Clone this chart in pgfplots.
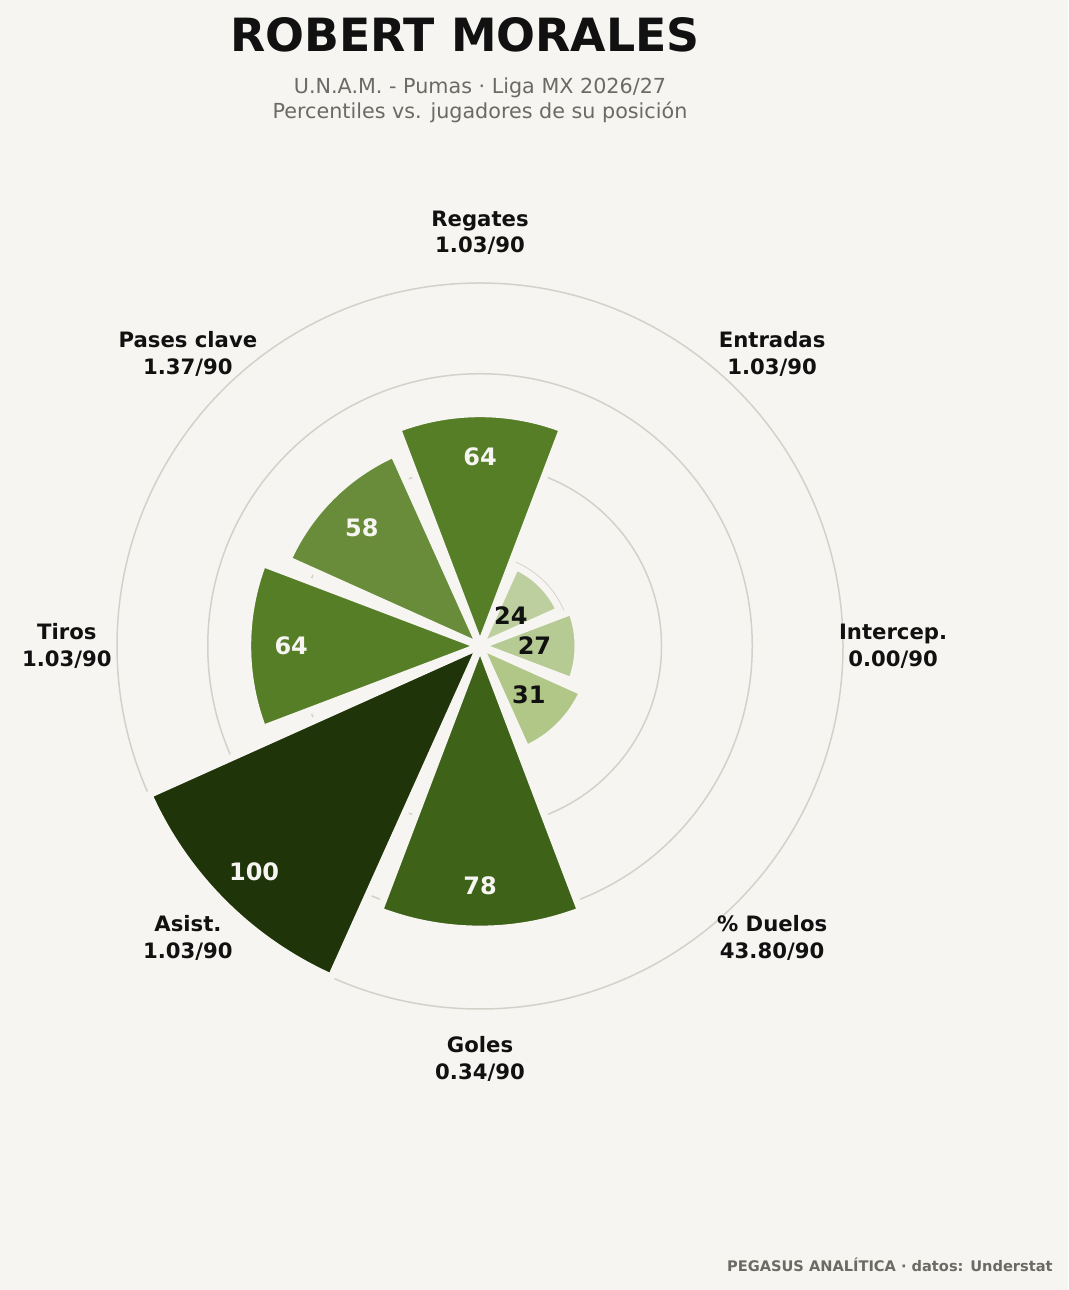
\documentclass[border=0pt]{standalone}
\usepackage{fontspec}
\setmainfont{DejaVu Sans}
\usepackage{pgfplots}
\usepackage{pgfplotstable}
\pgfplotsset{compat=1.18}

\definecolor{bg}{HTML}{F6F5F1}
\definecolor{ring}{HTML}{D4D1CB}
\definecolor{ink}{HTML}{111111}
\definecolor{soft}{HTML}{6B6A65}
% one colour per bar, in table order
\definecolor{bar0}{HTML}{567E27}
\definecolor{bar1}{HTML}{BDCF9F}
\definecolor{bar2}{HTML}{B6CA93}
\definecolor{bar3}{HTML}{B0C788}
\definecolor{bar4}{HTML}{3F6219}
\definecolor{bar5}{HTML}{1F3409}
\definecolor{bar6}{HTML}{567E27}
\definecolor{bar7}{HTML}{688C39}
\colorlet{txt0}{bg}\colorlet{txt1}{ink}\colorlet{txt2}{ink}\colorlet{txt3}{ink}
\colorlet{txt4}{bg}\colorlet{txt5}{bg}\colorlet{txt6}{bg}\colorlet{txt7}{bg}

% percentile per category, angle of the bar centre (deg)
\pgfplotstableread{
ang val
90 64
45 24
0 27
-45 31
-90 78
-135 100
180 64
135 58
}\bars

\newcommand{\unit}{1.815pt}% one percentile point
\newcommand{\half}{20.8}% half width of a bar, deg

\begin{document}
\begin{tikzpicture}
\begin{axis}[
    scale only axis,
    width=534pt, height=645pt,
    xmin=-132.23, xmax=161.98,
    ymin=-177.41, ymax=177.96,
    hide axis, clip=false,
]
\fill[bg] (rel axis cs:0,0) rectangle (rel axis cs:1,1);

% rings at 25, 50, 75, 100
\draw[ring, line width=0.75pt] (axis cs:0,0) circle[radius=25*\unit];
\draw[ring, line width=0.75pt] (axis cs:0,0) circle[radius=50*\unit];
\draw[ring, line width=0.75pt] (axis cs:0,0) circle[radius=75*\unit];
\draw[ring, line width=0.75pt] (axis cs:0,0) circle[radius=100*\unit];

\pgfplotsinvokeforeach{0,...,7}{
  \pgfplotstablegetelem{#1}{val}\of\bars \let\v\pgfplotsretval
  \pgfplotstablegetelem{#1}{ang}\of\bars \let\a\pgfplotsretval
  \edef\temp{\noexpand\filldraw[fill=bar#1, draw=bg, line width=3.5pt]
    (axis cs:0,0) -- (axis cs:{\v*cos(\a-\half)},{\v*sin(\a-\half)})
    arc[start angle=\a-\half, end angle=\a+\half, radius=\v*\unit] -- cycle;}
  \temp
}
\pgfplotsinvokeforeach{0,...,7}{
  \pgfplotstablegetelem{#1}{val}\of\bars \let\v\pgfplotsretval
  \pgfplotstablegetelem{#1}{ang}\of\bars \let\a\pgfplotsretval
  \edef\temp{\noexpand\node[text=txt#1, font=\noexpand\fontsize{12}{14}\noexpand\bfseries]
    at (axis cs:{(\v-12)*cos(\a)},{(\v-12)*sin(\a)}) {\v};}
  \temp
}

% category labels
\tikzset{cat/.style={align=center, text=ink, font=\fontsize{10.6}{13.3}\bfseries}}
\node[cat] at (axis cs:{113.8*cos(90)},{113.8*sin(90)}) {Regates\\1.03/90};
\node[cat] at (axis cs:{113.8*cos(45)},{113.8*sin(45)}) {Entradas\\1.03/90};
\node[cat] at (axis cs:{113.8*cos(0)},{113.8*sin(0)}) {Intercep.\\0.00/90};
\node[cat] at (axis cs:{113.8*cos(-45)},{113.8*sin(-45)}) {\% Duelos\\43.80/90};
\node[cat] at (axis cs:{113.8*cos(-90)},{113.8*sin(-90)}) {Goles\\0.34/90};
\node[cat] at (axis cs:{113.8*cos(-135)},{113.8*sin(-135)}) {Asist.\\1.03/90};
\node[cat] at (axis cs:{113.8*cos(180)},{113.8*sin(180)}) {Tiros\\1.03/90};
\node[cat] at (axis cs:{113.8*cos(135)},{113.8*sin(135)}) {Pases clave\\1.37/90};

% titles
\node[anchor=base, text=ink, font=\fontsize{22.9}{28}\bfseries] at (axis cs:-4.13,163.7) {ROBERT MORALES};
\node[anchor=base, text=soft, font=\fontsize{10.35}{12.5}\selectfont] at (axis cs:0,152.07) {U.N.A.M. - Pumas · Liga MX 2026/27};
\node[anchor=base, text=soft, font=\fontsize{10.35}{12.5}\selectfont] at (axis cs:0,145.18) {Percentiles vs. jugadores de su posición};
\node[anchor=base east, inner sep=0pt, text=soft, font=\fontsize{7.3}{9}\bfseries] at (axis cs:157.85,-172.2) {PEGASUS ANALÍTICA · datos: Understat};
\end{axis}
\end{tikzpicture}
\end{document}
